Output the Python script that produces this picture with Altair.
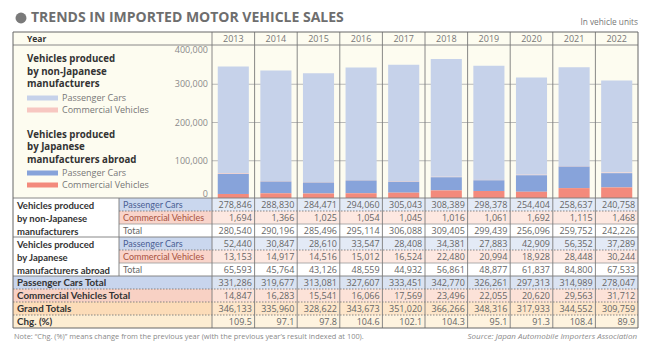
import altair as alt
import pandas as pd

# ---------------- data ----------------
years = ["2013", "2014", "2015", "2016", "2017", "2018", "2019", "2020", "2021", "2022"]
nonjap_pc = [278846, 288830, 284471, 294060, 305043, 308389, 298378, 254404, 258637, 240758]
nonjap_cv = [1694, 1366, 1025, 1054, 1045, 1016, 1061, 1692, 1115, 1468]
nonjap_total = [280540, 290196, 285496, 295114, 306088, 309405, 299439, 256096, 259752, 242226]
jap_pc = [52440, 30847, 28610, 33547, 28408, 34381, 27883, 42909, 56352, 37289]
jap_cv = [13153, 14917, 14516, 15012, 16524, 22480, 20994, 18928, 28448, 30244]
jap_total = [65593, 45764, 43126, 48559, 44932, 56861, 48877, 61837, 84800, 67533]
pc_total = [331286, 319677, 313081, 327607, 333451, 342770, 326261, 297313, 314989, 278047]
cv_total = [14847, 16283, 15541, 16066, 17569, 23496, 22055, 20620, 29563, 31712]
grand_total = [346133, 335960, 328622, 343673, 351020, 366266, 348316, 317933, 344552, 309759]
chg_pct = [109.5, 97.1, 97.8, 104.6, 102.1, 104.3, 95.1, 91.3, 108.4, 89.9]

series_keys = ["nj_pc", "nj_cv", "j_pc", "j_cv"]
mid_ticks = [100000, 200000, 300000]
low_tick = [0]
top_tick = [400000]
grid_ticks = [100000, 200000, 300000]

row_keys = ["nj_pc", "nj_cv", "nj_tot", "j_pc", "j_cv", "j_tot", "pc_tot", "cv_tot", "grand", "chg"]
sub_rows = ["nj_pc", "nj_cv", "nj_tot", "j_pc", "j_cv", "j_tot"]
sub_texts = ["Passenger Cars", "Commercial Vehicles", "Total",
             "Passenger Cars", "Commercial Vehicles", "Total"]
sub_kinds = ["pc", "cv", "tot", "pc", "cv", "tot"]
group_rows = ["nj_pc", "nj_cv", "nj_tot", "j_pc", "j_cv", "j_tot"]
group_texts = ["Vehicles produced", "by non-Japanese", "manufacturers",
               "Vehicles produced", "by Japanese", "manufacturers abroad"]
summary_rows = ["pc_tot", "cv_tot", "grand", "chg"]
summary_texts = ["Passenger Cars Total", "Commercial Vehicles Total", "Grand Totals", "Chg. (%)"]

# ---------------- styles ----------------
FONT = "Open Sans"
TFONT = "Lato"
bar_colors = ["#c6d2ea", "#f7c7c1", "#87a3da", "#f38a7c"]
cell_fills = ["#e3eaf6", "#fde8e1", "#ffffff", "#e3eaf6", "#fde8e1", "#ffffff",
              "#dae3f2", "#fce2d8", "#fde6ca", "#fef3df"]
label_fills = ["#cad7ee", "#f9d4ca", "#ffffff", "#cad7ee", "#f9d4ca", "#ffffff",
               "#c8d5ed", "#f8d1c4", "#fcdcb8", "#fdedd2"]
LINE = "#7a7a7a"

# ---------------- tables ----------------
stack_order = {"j_cv": 1, "j_pc": 2, "nj_cv": 3, "nj_pc": 4}
series_vals = {"nj_pc": nonjap_pc, "nj_cv": nonjap_cv, "j_pc": jap_pc, "j_cv": jap_cv}
bars_df = pd.DataFrame([
    {"year": y, "series": k, "value": series_vals[k][i], "order": stack_order[k]}
    for i, y in enumerate(years) for k in series_keys
])

row_vals = {"nj_pc": nonjap_pc, "nj_cv": nonjap_cv, "nj_tot": nonjap_total,
            "j_pc": jap_pc, "j_cv": jap_cv, "j_tot": jap_total,
            "pc_tot": pc_total, "cv_tot": cv_total, "grand": grand_total, "chg": chg_pct}
cells_df = pd.DataFrame([
    {"year": y, "row": r,
     "txt": (f"{row_vals[r][i]:.1f}" if r == "chg" else f"{row_vals[r][i]:,}")}
    for r in row_keys for i, y in enumerate(years)
])
years_df = pd.DataFrame({"year": years})
rows_df = pd.DataFrame({"row": row_keys})
sub_df = pd.DataFrame({"row": sub_rows, "txt": sub_texts, "kind": sub_kinds})
group_df = pd.DataFrame({"row": group_rows, "txt": group_texts})
summary_df = pd.DataFrame({"row": summary_rows, "txt": summary_texts})
one = pd.DataFrame({"d": [0]})

# ---------------- scales ----------------
X_BARS = alt.Scale(domain=years, range=[212, 638], paddingInner=0.27, paddingOuter=0.135)
Y_BARS = alt.Scale(domain=[0, 400000], range=[199, 46], nice=False)
X_COLS = alt.Scale(domain=years, range=[212, 638], paddingInner=0, paddingOuter=0)
Y_ROWS = alt.Scale(domain=row_keys, range=[198, 328], paddingInner=0, paddingOuter=0)
ROWFILL = alt.Scale(domain=row_keys, range=cell_fills)
LABFILL = alt.Scale(domain=row_keys, range=label_fills)

layers = []

# cream top region
layers.append(alt.Chart(one).mark_rect(fill="#fdfcf0").encode(
    x=alt.value(13), x2=alt.value(638), y=alt.value(32), y2=alt.value(198)))

# gridlines
layers.append(alt.Chart(pd.DataFrame({"v": grid_ticks})).mark_rule(color="#a8a8a8", strokeWidth=0.8).encode(
    y=alt.Y("v:Q", scale=Y_BARS, axis=None), x=alt.value(212), x2=alt.value(638)))

# bars
layers.append(alt.Chart(bars_df).mark_bar().encode(
    x=alt.X("year:N", scale=X_BARS, axis=None, sort=years),
    y=alt.Y("sum(value):Q", scale=Y_BARS, stack="zero", axis=None),
    color=alt.Color("series:N", scale=alt.Scale(domain=series_keys, range=bar_colors), legend=None),
    order=alt.Order("order:Q", sort="ascending"),
))

# y axis labels (through the bar value scale)
for ticks, base in [(mid_ticks, "middle"), (low_tick, "bottom"), (top_tick, "top")]:
    layers.append(alt.Chart(pd.DataFrame({"v": ticks})).mark_text(
        align="right", baseline=base, font=FONT, fontSize=9, color="#8a8a8a").encode(
        y=alt.Y("v:Q", scale=Y_BARS, axis=None),
        x=alt.value(208),
        text=alt.Text("v:Q", format=",")))

# table number cells
layers.append(alt.Chart(cells_df).mark_rect().encode(
    x=alt.X("year:N", scale=X_COLS, axis=None, sort=years),
    y=alt.Y("row:N", scale=Y_ROWS, axis=None, sort=row_keys),
    color=alt.Color("row:N", scale=ROWFILL, legend=None),
))
# sub-label cells
layers.append(alt.Chart(rows_df[rows_df.row.isin(sub_rows)]).mark_rect().encode(
    x=alt.value(119), x2=alt.value(212),
    y=alt.Y("row:N", scale=Y_ROWS, axis=None, sort=row_keys),
    color=alt.Color("row:N", scale=LABFILL, legend=None),
))
# summary label cells
layers.append(alt.Chart(rows_df[rows_df.row.isin(summary_rows)]).mark_rect().encode(
    x=alt.value(13), x2=alt.value(212),
    y=alt.Y("row:N", scale=Y_ROWS, axis=None, sort=row_keys),
    color=alt.Color("row:N", scale=LABFILL, legend=None),
))

# horizontal lines: full width solid
layers.append(alt.Chart(pd.DataFrame({"row": ["nj_pc", "j_pc", "pc_tot"]})).mark_rule(color=LINE, strokeWidth=0.9).encode(
    y=alt.Y("row:N", scale=Y_ROWS, axis=None, bandPosition=0, sort=row_keys),
    x=alt.value(13), x2=alt.value(638)))
# full width dotted
layers.append(alt.Chart(pd.DataFrame({"row": ["cv_tot", "grand", "chg"]})).mark_rule(color=LINE, strokeWidth=0.9, strokeDash=[1.5, 1.5]).encode(
    y=alt.Y("row:N", scale=Y_ROWS, axis=None, bandPosition=0, sort=row_keys),
    x=alt.value(13), x2=alt.value(638)))
# partial solid
layers.append(alt.Chart(pd.DataFrame({"row": ["nj_tot", "j_tot"]})).mark_rule(color="#9a9a9a", strokeWidth=0.8).encode(
    y=alt.Y("row:N", scale=Y_ROWS, axis=None, bandPosition=0, sort=row_keys),
    x=alt.value(119), x2=alt.value(638)))
# partial dotted
layers.append(alt.Chart(pd.DataFrame({"row": ["nj_cv", "j_cv"]})).mark_rule(color=LINE, strokeWidth=0.9, strokeDash=[1.5, 1.5]).encode(
    y=alt.Y("row:N", scale=Y_ROWS, axis=None, bandPosition=0, sort=row_keys),
    x=alt.value(119), x2=alt.value(638)))

# vertical separators
layers.append(alt.Chart(years_df).mark_rule(color=LINE, strokeWidth=0.9).encode(
    x=alt.X("year:N", scale=X_COLS, axis=None, bandPosition=0, sort=years),
    y=alt.value(32), y2=alt.value(328)))
layers.append(alt.Chart(one).mark_rule(color=LINE, strokeWidth=0.9).encode(
    x=alt.value(119), y=alt.value(198), y2=alt.value(276)))
# header line
layers.append(alt.Chart(one).mark_rule(color=LINE, strokeWidth=0.9).encode(
    x=alt.value(13), x2=alt.value(638), y=alt.value(45)))
# frame
layers.append(alt.Chart(one).mark_rect(fill=None, stroke="#666666", strokeWidth=1).encode(
    x=alt.value(13), x2=alt.value(638), y=alt.value(32), y2=alt.value(328)))

# numbers (right-aligned inside each year column)
layers.append(alt.Chart(cells_df).mark_text(align="right", baseline="middle", dx=18.5, dy=0.5,
                                            font=FONT, fontSize=9, color="#666666").encode(
    x=alt.X("year:N", scale=X_COLS, axis=None, sort=years),
    y=alt.Y("row:N", scale=Y_ROWS, axis=None, sort=row_keys),
    text="txt:N"))
# year header
layers.append(alt.Chart(years_df).mark_text(align="center", baseline="middle",
                                            font=FONT, fontSize=9, color="#777777").encode(
    x=alt.X("year:N", scale=X_COLS, axis=None, sort=years),
    y=alt.value(39), text="year:N"))
# sub labels
layers.append(alt.Chart(sub_df).mark_text(align="left", baseline="middle", dx=4, dy=0.5,
                                          font=TFONT, fontSize=9).encode(
    x=alt.value(119),
    y=alt.Y("row:N", scale=Y_ROWS, axis=None, sort=row_keys),
    color=alt.Color("kind:N", scale=alt.Scale(domain=["pc", "cv", "tot"],
                                              range=["#4a5f94", "#a8523e", "#666666"]), legend=None),
    text="txt:N"))
# group labels
layers.append(alt.Chart(group_df).mark_text(align="left", baseline="middle", dy=1.5,
                                            font=TFONT, fontSize=9.5, fontWeight="bold", color="#333333").encode(
    x=alt.value(17),
    y=alt.Y("row:N", scale=Y_ROWS, axis=None, sort=row_keys),
    text="txt:N"))
# summary labels
layers.append(alt.Chart(summary_df).mark_text(align="left", baseline="middle", dy=0.5,
                                              font=TFONT, fontSize=9.8, fontWeight="bold", color="#333333").encode(
    x=alt.value(17),
    y=alt.Y("row:N", scale=Y_ROWS, axis=None, sort=row_keys),
    text="txt:N"))

# header "Year"
layers.append(alt.Chart(one).mark_text(align="left", baseline="middle", font=FONT, fontSize=8.5,
                                       fontWeight="bold", color="#333333", text="Year").encode(
    x=alt.value(27), y=alt.value(39)))

# legend inside bar area
legend_titles = [("Vehicles produced", 59), ("by non-Japanese", 72), ("manufacturers", 84),
                 ("Vehicles produced", 135), ("by Japanese", 147), ("manufacturers abroad", 160)]
for txt, yy in legend_titles:
    layers.append(alt.Chart(one).mark_text(align="left", baseline="middle", font=FONT, fontSize=9.7,
                                           fontWeight="bold", color="#333333", text=txt).encode(
        x=alt.value(27), y=alt.value(yy)))
legend_items = [("Passenger Cars", 98, bar_colors[0]), ("Commercial Vehicles", 110, bar_colors[1]),
                ("Passenger Cars", 173, bar_colors[2]), ("Commercial Vehicles", 185, bar_colors[3])]
for txt, yy, col in legend_items:
    layers.append(alt.Chart(one).mark_rect(fill=col).encode(
        x=alt.value(27), x2=alt.value(58), y=alt.value(yy - 2.5), y2=alt.value(yy + 2.5)))
    layers.append(alt.Chart(one).mark_text(align="left", baseline="middle", font=FONT, fontSize=9,
                                           color="#777777", text=txt).encode(
        x=alt.value(62), y=alt.value(yy)))

# title
layers.append(alt.Chart(one).mark_point(shape="circle", filled=True, size=120, color="#7a7a7a", opacity=1).encode(
    x=alt.value(21), y=alt.value(18)))
layers.append(alt.Chart(one).mark_text(align="left", baseline="middle", font=FONT, fontSize=14,
                                       fontWeight="bold", color="#6e6e6e",
                                       text="TRENDS IN IMPORTED MOTOR VEHICLE SALES").encode(
    x=alt.value(31), y=alt.value(18)))
layers.append(alt.Chart(one).mark_text(align="right", baseline="middle", font=FONT, fontSize=8.3,
                                       color="#777777", text="In vehicle units").encode(
    x=alt.value(638), y=alt.value(23)))
# notes
layers.append(alt.Chart(one).mark_text(align="left", baseline="middle", font=FONT, fontSize=7.4,
                                       color="#8a8a8a",
                                       text="Note:  \u201cChg. (%)\u201d means change from the previous year (with the previous year\u2019s result indexed at 100).").encode(
    x=alt.value(14), y=alt.value(337)))
layers.append(alt.Chart(one).mark_text(align="right", baseline="middle", font=FONT, fontSize=8,
                                       fontStyle="italic", color="#8a8a8a",
                                       text="Source: Japan Automobile Importers Association").encode(
    x=alt.value(637), y=alt.value(337)))

chart = alt.layer(*layers).resolve_scale(
    x="independent", y="independent", color="independent"
).properties(
    width=650, height=353, padding=0, autosize=alt.AutoSizeParams(type="none"), background="white"
).configure_view(stroke=None)

chart.save("out.html", embed_options={"renderer": "svg", "actions": False})
